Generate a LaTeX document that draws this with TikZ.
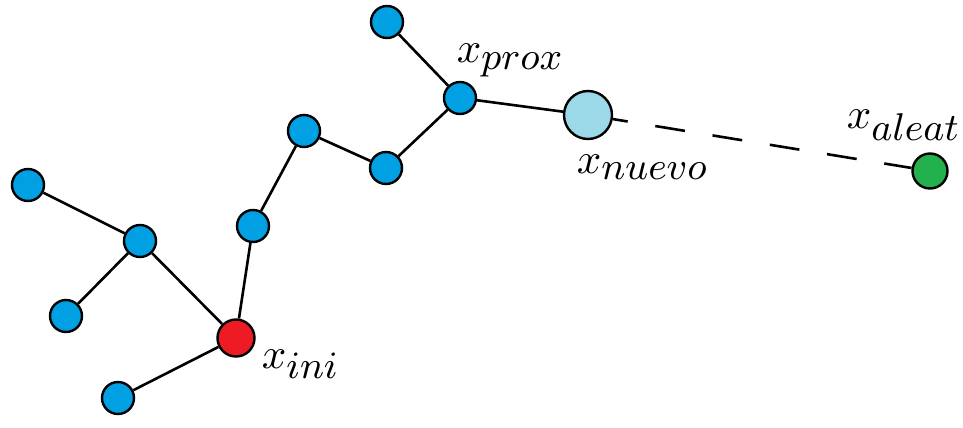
\documentclass[tikz,border=0pt]{standalone}
\definecolor{nodeblue}{RGB}{0,160,227}
\definecolor{newblue}{RGB}{155,216,232}
\definecolor{inired}{RGB}{237,28,36}
\definecolor{randgreen}{RGB}{34,177,76}
\newcommand{\lbl}[1]{$x_{\mbox{\small$#1$}}$}
\begin{document}
\begin{tikzpicture}[x=1pt,y=-1pt,
  vtx/.style={circle,draw=black,line width=2.4pt,fill=nodeblue,minimum size=32pt,inner sep=0pt},
  edge/.style={line width=2.6pt},
  lab/.style={anchor=base west,inner sep=0pt,scale=4.3}]
\useasboundingbox (0,0) rectangle (963,428);
\node[vtx] (top) at (387,22) {};
\node[vtx] (prox) at (460,98) {};
\node[vtx,fill=newblue,minimum size=48pt] (nuevo) at (588,115) {};
\node[vtx,fill=randgreen,minimum size=35pt] (aleat) at (930,171) {};
\node[vtx] (b1) at (386,168) {};
\node[vtx] (b2) at (304,131) {};
\node[vtx] (b3) at (253,226) {};
\node[vtx,fill=inired,minimum size=37pt] (ini) at (236,338) {};
\node[vtx] (c1) at (140,241) {};
\node[vtx] (c2) at (28,185) {};
\node[vtx] (c3) at (66,316) {};
\node[vtx] (c4) at (118,398) {};
\draw[edge] (top) -- (prox);
\draw[edge] (prox) -- (nuevo);
\draw[edge,dash pattern=on 30pt off 28pt,dash phase=15pt] (nuevo) -- (aleat);
\draw[edge] (prox) -- (b1);
\draw[edge] (b1) -- (b2);
\draw[edge] (b2) -- (b3);
\draw[edge] (b3) -- (ini);
\draw[edge] (ini) -- (c1);
\draw[edge] (c1) -- (c2);
\draw[edge] (c1) -- (c3);
\draw[edge] (ini) -- (c4);
\node[lab] (lprox) at (456,63) {\lbl{prox}};
\node[lab] (lnuevo) at (576,173) {\lbl{nuevo}};
\node[lab] (laleat) at (846,128) {\lbl{aleat}};
\node[lab] (lini) at (261,368) {\lbl{ini}};
\end{tikzpicture}
\end{document}
